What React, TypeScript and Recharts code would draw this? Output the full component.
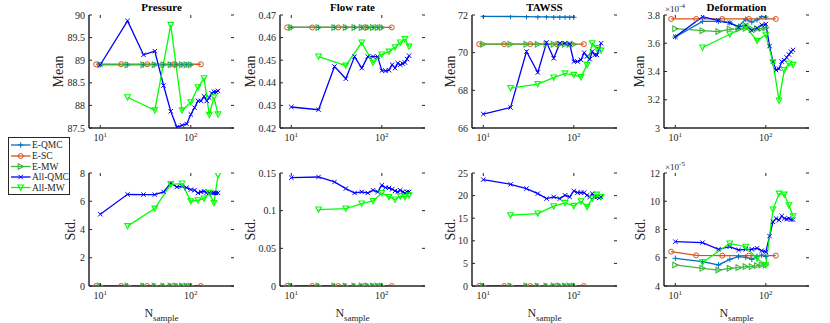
import React from 'react';
import { LineChart, Line, XAxis, YAxis } from 'recharts';

// ---------- series meta ----------
const seriesNames = ['E-QMC', 'E-SC', 'E-MW', 'All-QMC', 'All-MW'];
const seriesColors = ['#0072BD', '#D95319', '#3DB83D', '#0000FF', '#00FF00'];
const seriesMarkers = ['plus', 'circle', 'tright', 'cross', 'tdown'];

// ---------- sample counts (x) ----------
const xEQMC = [10, 20, 30, 40, 50, 60, 70, 80, 90, 100];
const xESC = [9, 17, 33, 65, 129];
const xEMW = [10, 20, 30, 40, 50, 60, 70, 80, 90, 100];
const xAllQMC = [10, 20, 30, 40, 50, 60, 70, 80, 90, 100, 110, 120, 130, 140, 150, 160, 170, 180, 190, 200];
const xAllMW = [20, 40, 60, 80, 100, 120, 140, 160, 180, 200];
const xTicks = [10, 100];

// ---------- Pressure ----------
const pressureMeanEQMC = [88.9, 88.9, 88.9, 88.9, 88.9, 88.9, 88.9, 88.9, 88.9, 88.9];
const pressureMeanESC = [88.91, 88.91, 88.91, 88.91, 88.91];
const pressureMeanEMW = [88.9, 88.9, 88.9, 88.9, 88.9, 88.9, 88.9, 88.9, 88.9, 88.9];
const pressureMeanAllQMC = [88.9, 89.87, 89.12, 89.2, 88.44, 87.87, 87.52, 87.56, 87.59, 87.8, 87.95, 88.1, 88.1, 88.2, 88.1, 88.17, 88.27, 88.3, 88.3, 88.32];
const pressureMeanAllMW = [88.18, 87.89, 89.78, 87.89, 88.07, 88.4, 88.6, 87.79, 88.18, 87.8];
const pressureStdEQMC = [0, 0, 0, 0, 0, 0, 0, 0, 0, 0];
const pressureStdESC = [0, 0, 0, 0, 0];
const pressureStdEMW = [0, 0, 0, 0, 0, 0, 0, 0, 0, 0];
const pressureStdAllQMC = [5.08, 6.49, 6.47, 6.47, 6.66, 7.29, 7.01, 7.06, 6.96, 6.82, 6.78, 6.59, 6.66, 6.7, 6.61, 6.59, 6.59, 6.59, 6.59, 6.59];
const pressureStdAllMW = [4.24, 5.48, 7.2, 7.25, 6.0, 6.07, 6.19, 6.59, 5.88, 7.84];

// ---------- Flow rate ----------
const flowMeanEQMC = [0.4645, 0.4645, 0.4645, 0.4645, 0.4645, 0.4645, 0.4645, 0.4645, 0.4645, 0.4645];
const flowMeanESC = [0.4645, 0.4645, 0.4645, 0.4645, 0.4645];
const flowMeanEMW = [0.4645, 0.4645, 0.4645, 0.4645, 0.4645, 0.4645, 0.4645, 0.4645, 0.4645, 0.4645];
const flowMeanAllQMC = [0.4293, 0.4281, 0.4472, 0.4418, 0.4516, 0.4465, 0.4516, 0.4516, 0.4516, 0.4454, 0.4453, 0.4456, 0.448, 0.4465, 0.4487, 0.448, 0.4485, 0.449, 0.4505, 0.452];
const flowMeanAllMW = [0.4516, 0.4476, 0.4578, 0.449, 0.4525, 0.4538, 0.4557, 0.4578, 0.4593, 0.456];
const flowStdEQMC = [0, 0, 0, 0, 0, 0, 0, 0, 0, 0];
const flowStdESC = [0, 0, 0, 0, 0];
const flowStdEMW = [0, 0, 0, 0, 0, 0, 0, 0, 0, 0];
const flowStdAllQMC = [0.1438, 0.1447, 0.1381, 0.1293, 0.1235, 0.1249, 0.1235, 0.1271, 0.1249, 0.1337, 0.1306, 0.1301, 0.1284, 0.1262, 0.1249, 0.1271, 0.1249, 0.1235, 0.1249, 0.1249];
const flowStdAllMW = [0.1015, 0.1028, 0.1094, 0.1129, 0.1235, 0.1182, 0.1147, 0.1191, 0.1182, 0.1204];

// ---------- TAWSS ----------
const tawssMeanEQMC = [71.93, 71.92, 71.91, 71.9, 71.9, 71.89, 71.89, 71.89, 71.88, 71.88];
const tawssMeanESC = [70.45, 70.45, 70.45, 70.45, 70.45];
const tawssMeanEMW = [70.45, 70.45, 70.45, 70.45, 70.45, 70.45, 70.45, 70.45, 70.45, 70.45];
const tawssMeanAllQMC = [66.74, 67.09, 70.06, 68.95, 70.54, 69.7, 70.5, 70.5, 70.46, 69.53, 69.53, 69.62, 70.0, 69.8, 69.65, 70.06, 69.88, 69.88, 70.18, 70.5];
const tawssMeanAllMW = [68.12, 68.33, 68.68, 68.9, 68.82, 68.7, 69.35, 70.5, 70.24, 70.11];
const tawssStdEQMC = [0, 0, 0, 0, 0, 0, 0, 0, 0, 0];
const tawssStdESC = [0, 0, 0, 0, 0];
const tawssStdEMW = [0, 0, 0, 0, 0, 0, 0, 0, 0, 0];
const tawssStdAllQMC = [23.53, 22.5, 21.54, 20.44, 19.34, 19.7, 19.34, 20.07, 19.7, 21.03, 20.66, 20.66, 20.66, 20.07, 19.7, 20.44, 19.7, 19.7, 19.48, 19.7];
const tawssStdAllMW = [15.66, 16.03, 17.65, 18.38, 17.72, 18.75, 17.5, 19.34, 20.22, 19.7];

// ---------- Deformation (mean x1e-4, std x1e-5) ----------
const defMeanEQMC = [3.645, 3.755, 3.755, 3.745, 3.72, 3.77, 3.75, 3.765, 3.79, 3.785];
const defMeanESC = [3.772, 3.772, 3.772, 3.772, 3.772];
const defMeanEMW = [3.703, 3.689, 3.683, 3.7, 3.7, 3.706, 3.7, 3.703, 3.706, 3.71];
const defMeanAllQMC = [3.646, 3.788, 3.76, 3.745, 3.713, 3.73, 3.69, 3.706, 3.73, 3.736, 3.58, 3.47, 3.41, 3.42, 3.47, 3.48, 3.5, 3.52, 3.54, 3.553];
const defMeanAllMW = [3.57, 3.664, 3.718, 3.617, 3.66, 3.464, 3.195, 3.41, 3.457, 3.447];
const defStdEQMC = [5.96, 5.72, 5.49, 5.89, 6.08, 6.03, 5.89, 6.1, 6.19, 6.08];
const defStdESC = [6.43, 6.17, 6.15, 6.15, 6.15];
const defStdEMW = [5.49, 5.25, 5.13, 5.25, 5.3, 5.37, 5.37, 5.44, 5.49, 5.49];
const defStdAllQMC = [7.14, 7.07, 6.6, 6.78, 6.55, 6.6, 6.6, 6.67, 6.5, 6.41, 7.53, 8.54, 8.78, 8.66, 8.96, 8.78, 8.73, 8.78, 8.7, 8.7];
const defStdAllMW = [5.67, 7.01, 6.78, 5.95, 5.48, 9.41, 10.54, 10.47, 9.72, 8.94];

// ---------- y ticks ----------
const ticksPressureMean = [87.5, 88, 88.5, 89, 89.5, 90];
const ticksFlowMean = [0.42, 0.43, 0.44, 0.45, 0.46, 0.47];
const ticksTawssMean = [66, 68, 70, 72];
const ticksDefMean = [3, 3.2, 3.4, 3.6, 3.8];
const ticksPressureStd = [0, 2, 4, 6, 8];
const ticksFlowStd = [0, 0.05, 0.1, 0.15];
const ticksTawssStd = [0, 5, 10, 15, 20, 25];
const ticksDefStd = [4, 6, 8, 10, 12];

const seriesX = [xEQMC, xESC, xEMW, xAllQMC, xAllMW];
const zip = (xs: number[], ys: number[]) => xs.map((x, i) => ({ x, y: ys[i] }));

const panels = [
  { left: 89, top: 15, ylabel: 'Mean', ylx: 58, ticks: ticksPressureMean, ys: [pressureMeanEQMC, pressureMeanESC, pressureMeanEMW, pressureMeanAllQMC, pressureMeanAllMW] },
  { left: 280, top: 15, ylabel: 'Mean', ylx: 250, ticks: ticksFlowMean, ys: [flowMeanEQMC, flowMeanESC, flowMeanEMW, flowMeanAllQMC, flowMeanAllMW] },
  { left: 472, top: 15, ylabel: 'Mean', ylx: 450, ticks: ticksTawssMean, ys: [tawssMeanEQMC, tawssMeanESC, tawssMeanEMW, tawssMeanAllQMC, tawssMeanAllMW] },
  { left: 664, top: 15, ylabel: 'Mean', ylx: 639, ticks: ticksDefMean, ys: [defMeanEQMC, defMeanESC, defMeanEMW, defMeanAllQMC, defMeanAllMW] },
  { left: 89, top: 173, ylabel: 'Std.', ylx: 70, ticks: ticksPressureStd, ys: [pressureStdEQMC, pressureStdESC, pressureStdEMW, pressureStdAllQMC, pressureStdAllMW] },
  { left: 280, top: 173, ylabel: 'Std.', ylx: 250, ticks: ticksFlowStd, ys: [flowStdEQMC, flowStdESC, flowStdEMW, flowStdAllQMC, flowStdAllMW] },
  { left: 472, top: 173, ylabel: 'Std.', ylx: 450, ticks: ticksTawssStd, ys: [tawssStdEQMC, tawssStdESC, tawssStdEMW, tawssStdAllQMC, tawssStdAllMW] },
  { left: 664, top: 173, ylabel: 'Std.', ylx: 640, ticks: ticksDefStd, ys: [defStdEQMC, defStdESC, defStdEMW, defStdAllQMC, defStdAllMW] },
];
const titles = ['Pressure', 'Flow rate', 'TAWSS', 'Deformation'];

const FONT = '"Liberation Serif", Tinos, "Times New Roman", serif';
const FS = { fontFamily: FONT };
const AX = '#262626';
const PW = 145, PH = 113, ML = 50, MT = 15, MR = 5, XH = 30;

function Marker({ kind, cx, cy, color }: any) {
  const s = 2.8;
  if (cx == null || cy == null) return null;
  switch (kind) {
    case 'plus':
      return <path d={`M${cx - s},${cy}H${cx + s}M${cx},${cy - s}V${cy + s}`} stroke={color} strokeWidth={1} fill="none" />;
    case 'circle':
      return <circle cx={cx} cy={cy} r={2.5} stroke={color} strokeWidth={1} fill="none" />;
    case 'tright':
      return <path d={`M${cx - s * 0.9},${cy - s}L${cx + s},${cy}L${cx - s * 0.9},${cy + s}Z`} stroke={color} strokeWidth={1.1} fill="none" />;
    case 'cross':
      return <path d={`M${cx - 2.2},${cy - 2.2}L${cx + 2.2},${cy + 2.2}M${cx - 2.2},${cy + 2.2}L${cx + 2.2},${cy - 2.2}`} stroke={color} strokeWidth={1} fill="none" />;
    case 'tdown':
      return <path d={`M${cx - s},${cy - s * 0.9}L${cx + s},${cy - s * 0.9}L${cx},${cy + s}Z`} stroke={color} strokeWidth={1.1} fill="none" />;
  }
  return null;
}

const XTick = (p: any) => {
  const { x, payload } = p;
  const yb = MT + PH;
  const exp = Math.round(Math.log10(payload.value));
  return (
    <g>
      <line x1={x} y1={yb} x2={x} y2={yb - 3} stroke={AX} strokeWidth={1} />
      <line x1={x} y1={MT} x2={x} y2={MT + 3} stroke={AX} strokeWidth={1} />
      <text x={x} y={yb + 13} textAnchor="middle" style={FS} fontSize={10} fill={AX}>
        10<tspan dy={-4} fontSize={7}>{exp}</tspan>
      </text>
    </g>
  );
};

const YTick = (p: any) => {
  const { y, payload } = p;
  return (
    <g>
      <line x1={ML} y1={y} x2={ML + 3} y2={y} stroke={AX} strokeWidth={1} />
      <line x1={ML + PW} y1={y} x2={ML + PW - 3} y2={y} stroke={AX} strokeWidth={1} />
      <text x={ML - 4} y={y + 3.5} textAnchor="end" style={FS} fontSize={10} fill={AX}>
        {String(payload.value)}
      </text>
    </g>
  );
};

function Panel({ cfg }: any) {
  const dom = [cfg.ticks[0], cfg.ticks[cfg.ticks.length - 1]];
  return (
    <div style={{ position: 'absolute', left: cfg.left - ML, top: cfg.top - MT }}>
      <LineChart width={ML + PW + MR} height={MT + PH + XH} margin={{ top: MT, right: MR, bottom: 0, left: 0 }}>
        <XAxis dataKey="x" type="number" scale="log" domain={[7.5, 300]} ticks={xTicks} allowDataOverflow
          height={XH} tickSize={0} tickMargin={0} tickLine={false} tick={<XTick />}
          axisLine={{ stroke: AX, strokeWidth: 1.5 }} interval={0} />
        <XAxis xAxisId="top" orientation="top" type="number" scale="log" domain={[7.5, 300]} allowDataOverflow
          height={0} tick={false} tickLine={false} axisLine={{ stroke: AX, strokeWidth: 1.5 }} />
        <YAxis type="number" domain={dom} ticks={cfg.ticks} allowDataOverflow width={ML}
          tickSize={0} tickMargin={0} tickLine={false} tick={<YTick />} interval={0}
          axisLine={{ stroke: AX, strokeWidth: 1.5 }} />
        <YAxis yAxisId="right" orientation="right" type="number" domain={dom} allowDataOverflow width={0}
          tick={false} tickLine={false} axisLine={{ stroke: AX, strokeWidth: 1.5 }} />
        {cfg.ys.map((ys: number[], si: number) => (
          <Line key={seriesNames[si]} name={seriesNames[si]} data={zip(seriesX[si], ys)} dataKey="y" type="linear"
            stroke={seriesColors[si]} strokeWidth={1.3} isAnimationActive={false} activeDot={false}
            dot={(d: any) => <Marker key={`m${si}-${d.index}`} kind={seriesMarkers[si]} cx={d.cx} cy={d.cy} color={seriesColors[si]} />} />
        ))}
      </LineChart>
    </div>
  );
}

export default function App() {
  const legendY = [145, 156, 166.5, 177, 187.5];
  return (
    <div style={{ position: 'absolute', left: 0, top: 0, width: 830, height: 323, background: '#fff', overflow: 'hidden', fontFamily: FONT }}>
      {panels.map((p, i) => <Panel key={i} cfg={p} />)}
      <svg width={830} height={323} style={{ position: 'absolute', left: 0, top: 0, pointerEvents: 'none', fontFamily: FONT }}>
        {titles.map((t, i) => (
          <text key={t} x={panels[i].left + PW / 2} y={11} textAnchor="middle" style={FS} fontSize={11} fontWeight="bold" fill="#000">{t}</text>
        ))}
        {panels.map((p, i) => (
          <text key={'yl' + i} transform={`translate(${p.ylx},${p.top + PH / 2}) rotate(-90)`} dy="0.33em" textAnchor="middle"
            style={FS} fontSize={14} fill={AX}>{p.ylabel}</text>
        ))}
        {[4, 5, 6, 7].map((i) => (
          <text key={'xl' + i} x={panels[i].left + PW / 2} y={317} textAnchor="middle" style={FS} fontSize={12} fill={AX}>
            N<tspan dy={4} fontSize={9}>sample</tspan>
          </text>
        ))}
        <text x={665} y={12} style={FS} fontSize={9} fill={AX}>×10<tspan dy={-4} fontSize={7}>-4</tspan></text>
        <text x={665} y={170} style={FS} fontSize={9} fill={AX}>×10<tspan dy={-4} fontSize={7}>-5</tspan></text>
        <rect x={8.5} y={137.5} width={61} height={57} fill="#fff" stroke={AX} strokeWidth={1} />
        {seriesNames.map((n, i) => (
          <g key={n}>
            <line x1={11} y1={legendY[i]} x2={30.5} y2={legendY[i]} stroke={seriesColors[i]} strokeWidth={1.3} />
            <Marker kind={seriesMarkers[i]} cx={20.7} cy={legendY[i]} color={seriesColors[i]} />
            <text x={32} y={legendY[i] + 3.3} style={FS} fontSize={9.5} fill={AX}>{n}</text>
          </g>
        ))}
      </svg>
    </div>
  );
}
